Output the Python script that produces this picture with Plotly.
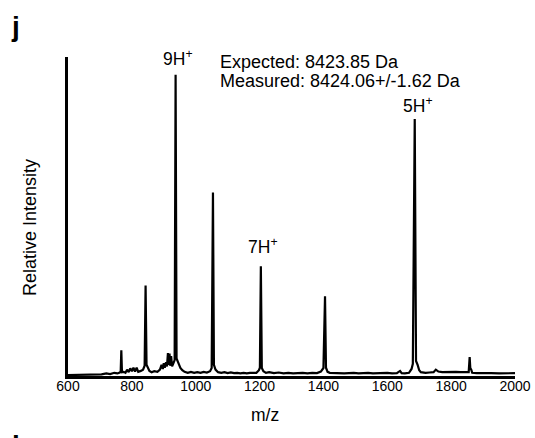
import plotly.graph_objects as go

# m/z values and relative intensities
mz = [600, 640, 680, 705, 720, 732, 745, 755, 762, 765, 767, 769, 774, 780, 785, 790, 795, 800, 805,
      810, 815, 820, 828, 835, 840, 843, 846, 850, 855, 862, 870, 880, 888, 893, 897, 900, 903, 907,
      910, 913, 915, 918, 920, 923, 926, 930, 934, 937, 940, 944, 948, 952, 958, 965, 975, 985, 995,
      1005, 1015, 1025, 1035, 1045, 1050, 1054, 1057, 1062, 1070, 1080, 1090, 1100, 1110, 1120, 1130,
      1140, 1150, 1160, 1170, 1180, 1190, 1198, 1201, 1204, 1207, 1212, 1220, 1230, 1245, 1260, 1275,
      1290, 1305, 1320, 1335, 1350, 1365, 1380, 1392, 1400, 1405, 1408, 1413, 1420, 1435, 1450, 1465,
      1480, 1495, 1510, 1525, 1540, 1555, 1570, 1585, 1600, 1615, 1630, 1640, 1645, 1655, 1668, 1676,
      1680, 1686, 1690, 1695, 1700, 1705, 1712, 1720, 1732, 1745, 1752, 1760, 1772, 1785, 1800, 1815,
      1830, 1845, 1855, 1858, 1860, 1863, 1866, 1880, 1900, 1925, 1950, 1975, 2000]
intensity = [0.3, 0.4, 0.3, 0.5, 0.8, 0.6, 1.0, 0.8, 1.1, 1.4, 8.1, 1.2, 1.3, 1.0, 2.0, 1.2, 2.4, 1.5, 2.6,
             1.4, 2.6, 1.3, 1.6, 2.0, 3.2, 28.4, 3.5, 2.5, 1.6, 1.2, 1.5, 1.3, 2.0, 3.5, 2.2, 4.0, 2.6, 4.3,
             3.0, 7.2, 3.5, 7.0, 3.2, 6.2, 3.0, 4.0, 5.0, 94.4, 5.5, 4.5, 3.2, 2.5, 1.8, 1.3, 1.0, 1.3, 1.0,
             1.2, 1.0, 1.3, 1.1, 1.5, 2.5, 57.5, 3.5, 2.0, 1.2, 1.0, 1.2, 0.9, 1.1, 0.9, 1.0,
             0.8, 1.0, 0.8, 1.0, 0.9, 1.0, 1.8, 2.6, 34.4, 2.5, 1.5, 1.0, 1.2, 0.9, 1.1, 0.8,
             1.0, 0.8, 0.9, 1.0, 0.8, 1.0, 0.9, 1.4, 2.5, 25.0, 2.6, 1.3, 1.0, 0.9, 1.0, 0.8,
             0.9, 1.0, 0.8, 0.9, 1.0, 0.8, 0.9, 0.8, 1.0, 0.8, 0.9, 1.6, 0.9, 0.8, 1.0, 2.2,
             3.8, 80.6, 4.7, 3.5, 1.8, 1.2, 1.0, 1.0, 1.1, 1.2, 2.0, 1.4, 1.2, 1.3, 1.2, 1.3,
             1.2, 1.3, 1.2, 5.9, 2.5, 2.0, 1.0, 0.9, 0.8, 0.9, 0.8, 0.9, 0.9]

x_ticks = [600, 800, 1000, 1200, 1400, 1600, 1800, 2000]

# charge-state labels: text, m/z position, intensity position (top label kept inside the range)
peak_labels = ["9H<sup>+</sup>", "7H<sup>+</sup>", "5H<sup>+</sup>"]
peak_label_mz = [945, 1210, 1695]
peak_label_int = [99.6, 40.8, 84.8]

expected_text = "Expected: 8423.85 Da"
measured_text = "Measured: 8424.06+/-1.62 Da"

FONT = "Arial, Liberation Sans, sans-serif"
W, H = 535, 438
L, R, T, B = 68, 20, 57, 62


def px(x):
    return (x - L) / (W - L - R)


def py(y):
    return (H - B - y) / (H - T - B)


fig = go.Figure()
fig.add_trace(go.Scatter(x=mz, y=intensity, mode="lines",
                         line=dict(color="black", width=2.2), showlegend=False,
                         hoverinfo="skip", cliponaxis=False))

annotations = []
for t, xm, yi in zip(peak_labels, peak_label_mz, peak_label_int):
    annotations.append(dict(x=xm, y=yi, xref="x", yref="y", text=t, showarrow=False,
                            xanchor="center", yanchor="middle",
                            font=dict(family=FONT, size=17.5, color="black")))
annotations.append(dict(x=px(218), y=py(62), xref="paper", yref="paper", text=expected_text,
                        showarrow=False, xanchor="left", yanchor="middle",
                        font=dict(family=FONT, size=18, color="black")))
annotations.append(dict(x=px(218), y=py(81), xref="paper", yref="paper", text=measured_text,
                        showarrow=False, xanchor="left", yanchor="middle",
                        font=dict(family=FONT, size=18, color="black")))
annotations.append(dict(x=px(265), y=py(415), xref="paper", yref="paper",
                        text="m/z", showarrow=False, xanchor="center", yanchor="middle",
                        font=dict(family=FONT, size=17.5, color="black")))
annotations.append(dict(x=px(30), y=py(228), xref="paper", yref="paper",
                        text="Relative Intensity", textangle=-90, showarrow=False,
                        xanchor="center", yanchor="middle",
                        font=dict(family=FONT, size=18, color="black")))
annotations.append(dict(x=px(15), y=py(26), xref="paper", yref="paper",
                        text="<b>j</b>", showarrow=False, xanchor="center", yanchor="middle",
                        font=dict(family=FONT, size=28, color="black")))
annotations.append(dict(x=px(20), y=py(428), xref="paper", yref="paper",
                        text="<b>k</b>", showarrow=False, xanchor="center", yanchor="top",
                        font=dict(family=FONT, size=28, color="black")))

fig.update_layout(
    width=W, height=H,
    margin=dict(l=L, r=R, t=T, b=B, autoexpand=False),
    paper_bgcolor="white", plot_bgcolor="white",
    font=dict(family=FONT, size=14, color="black"),
    annotations=annotations,
    xaxis=dict(range=[600, 2000], tickvals=x_ticks, ticktext=[str(v) for v in x_ticks],
               showline=True, linewidth=3, linecolor="black", ticks="", automargin=False,
               ticklabelstandoff=-5,
               showgrid=False, zeroline=False, tickfont=dict(family=FONT, size=14, color="black")),
    yaxis=dict(range=[0, 100], showline=True, linewidth=3, linecolor="black", ticks="",
               automargin=False,
               showticklabels=False, showgrid=False, zeroline=False),
)

fig.write_html("out.html", config={"displayModeBar": False},
               post_script="document.body.style.margin='0';document.body.style.overflow='hidden';")
